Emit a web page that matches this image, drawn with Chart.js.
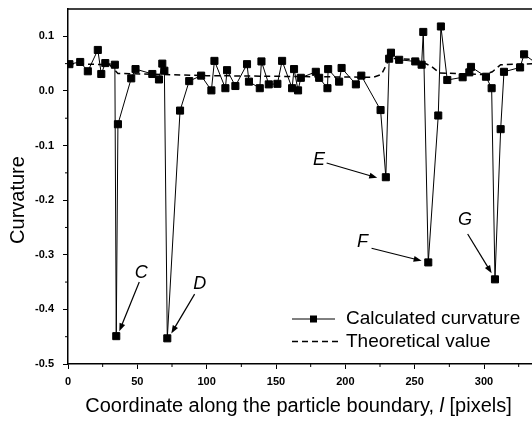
<!DOCTYPE html>
<html>
<head>
<meta charset="utf-8">
<script src="https://cdn.jsdelivr.net/npm/chart.js@4.4.1/dist/chart.umd.min.js"></script>
<style>
  html, body { margin: 0; padding: 0; background: #fff; overflow: hidden; }
</style>
</head>
<body>
<canvas id="chart" width="532" height="421"></canvas>
<script>
// calculated curvature along the boundary
const calcX = [1, 8.8, 14.3, 21.5, 24, 26.9, 33.8, 34.8, 36, 45.6, 48.7, 60.8, 65.6, 68, 69.5, 71.6,
  80.8, 87.4, 96, 103.4, 105.6, 113.5, 114.7, 120.7, 129.1, 130.5, 138.3, 139.5, 144.8, 151, 154.4,
  161.6, 163, 165.9, 167.9, 178.7, 181.1, 187.1, 187.6, 195.5, 197.3, 207.6, 211.5, 225.4, 229.2,
  231.6, 232.9, 238.8, 250.4, 255, 256.2, 259.8, 267, 268.9, 273.5, 284.6, 289.4, 290.6, 301.4,
  305.5, 307.9, 312, 314.4, 326, 328.9, 338];
const calcY = [0.049, 0.053, 0.036, 0.075, 0.031, 0.051, 0.048, -0.449, -0.061, 0.023, 0.040, 0.031, 0.021, 0.050, 0.037, -0.453,
  -0.036, 0.018, 0.028, 0.001, 0.055, 0.005, 0.038, 0.009, 0.049, 0.017, 0.005, 0.054, 0.012, 0.013, 0.055,
  0.005, 0.040, 0.001, 0.024, 0.035, 0.024, 0.005, 0.040, 0.017, 0.042, 0.012, 0.028, -0.035, -0.158,
  0.059, 0.070, 0.057, 0.054, 0.048, 0.108, -0.314, -0.045, 0.118, 0.020, 0.025, 0.034, 0.044, 0.026,
  0.005, -0.345, -0.070, 0.035, 0.043, 0.067, 0.05];

// theoretical value
const theoryX = [0, 30, 36, 100, 220, 226, 232, 252, 262, 268, 300, 306, 312, 340];
const theoryY = [0.05, 0.048, 0.032, 0.028, 0.025, 0.030, 0.060, 0.057, 0.045, 0.033, 0.030, 0.035, 0.048, 0.05];

const xTicks = [0, 50, 100, 150, 200, 250, 300];
const yTicks = [-0.5, -0.4, -0.3, -0.2, -0.1, 0.0, 0.1];

// callout letters: label position, arrow start, arrow end (data units)
const callouts = [
  { text: "C", at: [52.8, -0.333], from: [51.4, -0.350], to: [37, -0.440] },
  { text: "D", at: [95, -0.354], from: [91.3, -0.372], to: [74.5, -0.444] },
  { text: "E", at: [181, -0.127], from: [186.5, -0.132], to: [223, -0.159] },
  { text: "F", at: [212.4, -0.277], from: [218.9, -0.288], to: [255, -0.311] },
  { text: "G", at: [286.3, -0.236], from: [288.2, -0.262], to: [305.5, -0.334] }
];

const FONT = "'Liberation Sans', Arial, sans-serif";

const drawArrow = (ctx, x1, y1, x2, y2) => {
  const ang = Math.atan2(y2 - y1, x2 - x1);
  const len = 8;
  const w = 3;
  ctx.beginPath();
  ctx.moveTo(x1, y1);
  ctx.lineTo(x2 - Math.cos(ang) * len * 0.8, y2 - Math.sin(ang) * len * 0.8);
  ctx.stroke();
  ctx.beginPath();
  ctx.moveTo(x2, y2);
  ctx.lineTo(x2 - Math.cos(ang) * len - Math.sin(ang) * w, y2 - Math.sin(ang) * len + Math.cos(ang) * w);
  ctx.lineTo(x2 - Math.cos(ang) * len + Math.sin(ang) * w, y2 - Math.sin(ang) * len - Math.cos(ang) * w);
  ctx.closePath();
  ctx.fill();
};

const decorations = {
  id: "decorations",
  afterDraw(chart) {
    const { ctx, chartArea, scales } = chart;
    const xs = scales.x;
    const ys = scales.y;
    ctx.save();
    ctx.strokeStyle = "#000";
    ctx.fillStyle = "#000";

    // top frame line
    ctx.lineWidth = 1.5;
    ctx.beginPath();
    ctx.moveTo(chartArea.left, chartArea.top);
    ctx.lineTo(chartArea.right, chartArea.top);
    ctx.stroke();

    // minor ticks
    ctx.lineWidth = 1;
    for (let v = 25; v < xs.max; v += 50) {
      const px = xs.getPixelForValue(v);
      ctx.beginPath();
      ctx.moveTo(px, chartArea.bottom);
      ctx.lineTo(px, chartArea.bottom + 3);
      ctx.stroke();
    }
    for (let v = -0.45; v < 0.15; v += 0.1) {
      const py = ys.getPixelForValue(v);
      ctx.beginPath();
      ctx.moveTo(chartArea.left, py);
      ctx.lineTo(chartArea.left - 3, py);
      ctx.stroke();
    }

    // callouts
    ctx.font = "italic 18px " + FONT;
    ctx.textAlign = "center";
    ctx.textBaseline = "middle";
    ctx.lineWidth = 1.2;
    callouts.forEach((c) => {
      ctx.fillText(c.text, xs.getPixelForValue(c.at[0]), ys.getPixelForValue(c.at[1]));
      drawArrow(ctx,
        xs.getPixelForValue(c.from[0]), ys.getPixelForValue(c.from[1]),
        xs.getPixelForValue(c.to[0]), ys.getPixelForValue(c.to[1]));
    });

    // legend
    const lx1 = 292, lx2 = 335;
    const row1 = 319, row2 = 341.5;
    ctx.lineWidth = 1;
    ctx.beginPath();
    ctx.moveTo(lx1, row1);
    ctx.lineTo(lx2, row1);
    ctx.stroke();
    ctx.fillRect((lx1 + lx2) / 2 - 3.5, row1 - 3.5, 7, 7);
    ctx.lineWidth = 1.5;
    ctx.setLineDash([6, 4]);
    ctx.beginPath();
    ctx.moveTo(lx1, row2);
    ctx.lineTo(lx2 + 6, row2);
    ctx.stroke();
    ctx.setLineDash([]);
    ctx.font = "19px " + FONT;
    ctx.textAlign = "left";
    ctx.fillText("Calculated curvature", 346, row1);
    ctx.fillText("Theoretical value", 346, row2);

    // axis titles
    const part1 = "Coordinate along the particle boundary, ";
    const part3 = " [pixels]";
    ctx.font = "20px " + FONT;
    const w1 = ctx.measureText(part1).width;
    const w3 = ctx.measureText(part3).width;
    ctx.font = "italic 20px " + FONT;
    const w2 = ctx.measureText("l").width;
    const total = w1 + w2 + w3;
    const tx = 298.5 - total / 2;
    const ty = 406;
    ctx.font = "20px " + FONT;
    ctx.fillText(part1, tx, ty);
    ctx.font = "italic 20px " + FONT;
    ctx.fillText("l", tx + w1, ty);
    ctx.font = "20px " + FONT;
    ctx.fillText(part3, tx + w1 + w2, ty);

    ctx.translate(18, 200);
    ctx.rotate(-Math.PI / 2);
    ctx.textAlign = "center";
    ctx.font = "20px " + FONT;
    ctx.fillText("Curvature", 0, 0);
    ctx.restore();
  }
};

new Chart(document.getElementById("chart"), {
  type: "scatter",
  data: {
    datasets: [
      {
        label: "Calculated curvature",
        data: calcX.map((x, i) => ({ x, y: calcY[i] })),
        showLine: true,
        borderColor: "#000",
        backgroundColor: "#000",
        borderWidth: 1,
        pointStyle: "rect",
        pointRadius: 5,
        pointHoverRadius: 5,
        order: 1
      },
      {
        label: "Theoretical value",
        data: theoryX.map((x, i) => ({ x, y: theoryY[i] })),
        showLine: true,
        borderColor: "#000",
        borderWidth: 1.5,
        borderDash: [6, 4],
        pointRadius: 0,
        order: 2
      }
    ]
  },
  options: {
    responsive: false,
    animation: false,
    devicePixelRatio: 1,
    layout: { autoPadding: false, padding: { top: 9, right: 0, left: 0, bottom: 0 } },
    plugins: { legend: { display: false }, tooltip: { enabled: false } },
    scales: {
      x: {
        type: "linear",
        min: 0,
        max: 334.6,
        afterBuildTicks: (scale) => { scale.ticks = xTicks.map((v) => ({ value: v })); },
        afterFit: (scale) => {
          scale.height = 57;
          scale.paddingLeft = 0;
          scale.paddingRight = 0;
        },
        grid: { display: true, drawOnChartArea: false, color: "#000", tickLength: 5, lineWidth: 1 },
        border: { display: true, color: "#000", width: 1.5 },
        ticks: {
          color: "#000",
          padding: 6,
          maxRotation: 0,
          font: { family: FONT, size: 11, weight: "bold" },
          callback: (v) => String(v)
        }
      },
      y: {
        min: -0.5,
        max: 0.15,
        afterBuildTicks: (scale) => { scale.ticks = yTicks.map((v) => ({ value: v })); },
        afterFit: (scale) => {
          scale.width = 68;
          scale.paddingTop = 0;
          scale.paddingBottom = 0;
        },
        grid: { display: true, drawOnChartArea: false, color: "#000", tickLength: 5, lineWidth: 1 },
        border: { display: true, color: "#000", width: 1.5 },
        ticks: {
          color: "#000",
          padding: 9,
          font: { family: FONT, size: 11, weight: "bold" },
          callback: (v) => v.toFixed(1)
        }
      }
    }
  },
  plugins: [decorations]
});
</script>
</body>
</html>
